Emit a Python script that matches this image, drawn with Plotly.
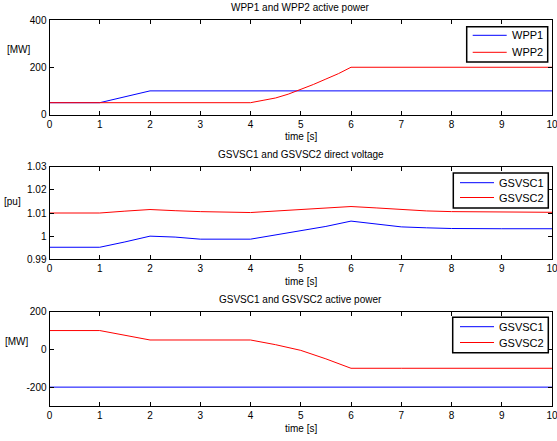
import plotly.graph_objects as go

W, H = 557, 441

# ---- data ----
t_wpp = [0, 1, 2, 3, 4, 4.25, 4.5, 4.75, 5, 5.25, 5.5, 5.75, 6, 7, 8, 9, 10]
wpp1 = [50, 50, 100, 100, 100, 100, 100, 100, 100, 100, 100, 100, 100, 100, 100, 100, 100]
wpp2 = [50, 50, 50, 50, 50, 60, 70, 86, 106, 127, 150, 173, 200, 200, 200, 200, 200]

t_v = [0, 1, 1.5, 2, 2.5, 3, 4, 4.5, 5, 5.5, 6, 6.5, 7, 7.5, 8, 9, 10]
gsvsc1_v = [0.9952, 0.9952, 0.9975, 1.0, 0.9996, 0.9987, 0.9987, 1.0005, 1.0022, 1.0042,
            1.0065, 1.0052, 1.0040, 1.0036, 1.0033, 1.0032, 1.0032]
gsvsc2_v = [1.0100, 1.0100, 1.0108, 1.0115, 1.0110, 1.0106, 1.0102, 1.0108, 1.0114, 1.0120,
            1.0128, 1.0122, 1.0115, 1.0109, 1.0106, 1.0104, 1.0103]

t_p = [0, 1, 2, 3, 4, 4.5, 5, 5.5, 6, 7, 8, 9, 10]
gsvsc1_p = [-200] * len(t_p)
gsvsc2_p = [100, 100, 50, 50, 50, 25, -5, -50, -100, -100, -100, -100, -100]

x_ticks = [0, 1, 2, 3, 4, 5, 6, 7, 8, 9, 10]
y1_ticks = [0, 200, 400]
y1_text = ["0", "200", "400"]
y2_ticks = [0.99, 1.0, 1.01, 1.02, 1.03]
y2_text = ["0.99", "1", "1.01", "1.02", "1.03"]
y3_ticks = [-200, 0, 200]
y3_text = ["-200", "0", "200"]

titles = ["WPP1 and WPP2 active power", "GSVSC1 and GSVSC2 direct voltage",
          "GSVSC1 and GSVSC2 active power"]
ylabels = ["[MW]", "[pu]", "[MW]"]
legend_names = [["WPP1", "WPP2"], ["GSVSC1", "GSVSC2"], ["GSVSC1", "GSVSC2"]]

FONT = "Liberation Sans, Arial, sans-serif"
BLUE = "rgb(0,0,255)"
RED = "rgb(255,0,0)"
COLORS = [BLUE, RED]

# pixel layout
xl, xr = 49.5, 552.0
boxes = [(20.0, 114.5), (166.7, 259.3), (311.7, 406.0)]


def py(p):
    return 1 - p / H


def px(p):
    return p / W


fig = go.Figure()

series = [
    (t_wpp, wpp1, wpp2),
    (t_v, gsvsc1_v, gsvsc2_v),
    (t_p, gsvsc1_p, gsvsc2_p),
]
for i, (tt, s1, s2) in enumerate(series):
    sfx = "" if i == 0 else str(i + 1)
    for j, s in enumerate((s1, s2)):
        fig.add_trace(go.Scatter(x=tt, y=s, mode="lines", name=legend_names[i][j],
                                 line=dict(color=COLORS[j], width=1),
                                 xaxis="x" + sfx, yaxis="y" + sfx, showlegend=False))

axis_common = dict(showline=True, linecolor="black", linewidth=1, mirror="ticks",
                   ticks="inside", ticklen=4, tickcolor="black", showgrid=False, zeroline=False,
                   ticklabeloverflow="allow", automargin=False,
                   tickfont=dict(family=FONT, size=10, color="black"))

yranges = [[0, 400], [0.99, 1.03], [-300, 200]]
yticks = [(y1_ticks, y1_text), (y2_ticks, y2_text), (y3_ticks, y3_text)]

layout = dict(width=W, height=H, margin=dict(l=0, r=0, t=0, b=0, autoexpand=False),
              paper_bgcolor="white", plot_bgcolor="white", showlegend=False,
              font=dict(family=FONT, size=10, color="black"))

annotations = []
shapes = []
for i, (top, bot) in enumerate(boxes):
    sfx = "" if i == 0 else str(i + 1)
    layout["xaxis" + sfx] = dict(domain=[px(xl), px(xr)], range=[0, 10], tickvals=x_ticks,
                                 anchor="y" + sfx, **axis_common)
    layout["yaxis" + sfx] = dict(domain=[py(bot), py(top)], range=yranges[i],
                                 tickvals=yticks[i][0], ticktext=yticks[i][1],
                                 anchor="x" + sfx, **axis_common)
    annotations.append(dict(text=titles[i], x=px((xl + xr) / 2), y=py(top - 12), xref="paper", yref="paper",
                            showarrow=False, xanchor="center", yanchor="middle",
                            font=dict(family=FONT, size=10)))
    annotations.append(dict(text="time [s]", x=px((xl + xr) / 2), y=py(bot + 22), xref="paper", yref="paper",
                            showarrow=False, xanchor="center", yanchor="middle",
                            font=dict(family=FONT, size=10)))

ylab_pos = [(33.3, 50.0), (22.7, 201.7), (30.7, 341.7)]
for lab, (xx, yy) in zip(ylabels, ylab_pos):
    annotations.append(dict(text=lab, x=px(xx), y=py(yy), xref="paper", yref="paper",
                            showarrow=False, xanchor="right", yanchor="middle",
                            font=dict(family=FONT, size=10)))

# legend boxes (pixel geometry): box x0,x1,y0,y1 ; sample x0,x1 ; item ys ; text x
legend_geo = [
    dict(box=(466.7, 547.7, 26.7, 62.0), line=(472.7, 506.7), ys=(35.3, 52.3), tx=510.0),
    dict(box=(453.3, 548.3, 173.0, 208.0), line=(460.0, 494.0), ys=(182.7, 197.5), tx=497.3),
    dict(box=(452.7, 548.3, 317.3, 352.7), line=(460.0, 494.0), ys=(326.7, 342.5), tx=497.3),
]
for i, g in enumerate(legend_geo):
    bx0, bx1, by0, by1 = g["box"]
    shapes.append(dict(type="rect", xref="paper", yref="paper",
                       x0=px(bx0), x1=px(bx1), y0=py(by1), y1=py(by0),
                       line=dict(color="black", width=1.5), fillcolor="white", layer="above"))
    for j in range(2):
        yy = g["ys"][j]
        shapes.append(dict(type="line", xref="paper", yref="paper",
                           x0=px(g["line"][0]), x1=px(g["line"][1]), y0=py(yy), y1=py(yy),
                           line=dict(color=COLORS[j], width=1), layer="above"))
        annotations.append(dict(text=legend_names[i][j], x=px(g["tx"]), y=py(yy), xref="paper", yref="paper",
                                showarrow=False, xanchor="left", yanchor="middle",
                                font=dict(family=FONT, size=11)))

layout["annotations"] = annotations
layout["shapes"] = shapes

fig.update_layout(**layout)
fig.write_html("out.html")
